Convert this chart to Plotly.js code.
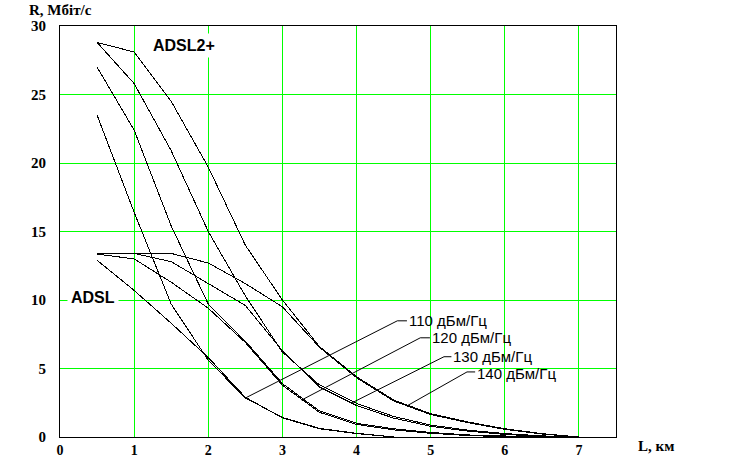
<!DOCTYPE html>
<html>
<head>
<meta charset="utf-8">
<script src="https://cdn.plot.ly/plotly-3.0.1.min.js"></script>
<style>
html,body{margin:0;padding:0;background:#fff;}
#chart{width:741px;height:457px;}
.scatterlayer path.js-line{shape-rendering:crispEdges;}
</style>
</head>
<body>
<div id="chart"></div>
<script>
// Distance, km
const L = [0.5, 1, 1.5, 2, 2.5, 3, 3.5, 4, 4.5, 5, 5.5, 6, 6.5, 7];

// ADSL2+ bit rate, Mbit/s
const adsl2p_140 = [28.8, 28.1, 24.5, 19.7, 14.0, 10.0, 6.6, 4.4, 2.7, 1.7, 1.1, 0.6, 0.25, 0.0];
const adsl2p_130 = [28.8, 25.8, 20.9, 15.0, 10.3, 6.2, 3.8, 2.45, 1.5, 0.87, 0.5, 0.25, 0.08, 0.0];
const adsl2p_120 = [27.0, 22.4, 15.4, 9.7, 7.0, 3.9, 1.9, 1.0, 0.6, 0.33, 0.15, 0.05, 0.0];
const adsl2p_110 = [23.5, 16.4, 9.7, 5.6, 2.85, 1.43, 0.63, 0.27, 0.0];

// ADSL bit rate, Mbit/s
const adsl_140 = [13.4, 13.4, 13.4, 12.7, 11.2, 9.5, 6.55, 4.33, 2.63, 1.64, 1.05, 0.56, 0.22, 0.0];
const adsl_130 = [13.4, 13.4, 12.8, 11.2, 9.6, 6.3, 3.65, 2.3, 1.38, 0.78, 0.43, 0.19, 0.05, 0.0];
const adsl_120 = [13.35, 13.0, 11.3, 9.4, 6.9, 3.78, 1.8, 0.92, 0.52, 0.27, 0.11, 0.02, 0.0];
const adsl_110 = [12.9, 10.7, 8.3, 5.8, 2.9, 1.4, 0.6, 0.25, 0.0];

// Curve labels (PSD)
const psdLabels = ['110 дБм/Гц', '120 дБм/Гц', '130 дБм/Гц', '140 дБм/Гц'];

// Axis ticks
const xTicks = [0, 1, 2, 3, 4, 5, 6, 7];
const yTicks = [0, 5, 10, 15, 20, 25, 30];

const series = [adsl2p_140, adsl2p_130, adsl2p_120, adsl2p_110, adsl_140, adsl_130, adsl_120, adsl_110];

const traces = series.map(function (ys) {
  return {
    type: 'scatter', mode: 'lines',
    x: L.slice(0, ys.length), y: ys,
    line: {color: '#000000', width: 1},
    hoverinfo: 'skip', showlegend: false
  };
});

const tickFont = {family: 'Liberation Serif, Times New Roman, serif', size: 15, color: '#000'};
const xTickFont = {family: 'Liberation Serif, Times New Roman, serif', size: 14, color: '#000'};
const labelFont = {family: 'Liberation Sans, Arial, sans-serif', size: 15, color: '#000'};
const boldFont = {family: 'Liberation Sans, Arial, sans-serif', size: 16, color: '#000', weight: 'bold'};

// Leader lines: [curve point, label point, tail end]
const leaders = [
  [[2.52, 2.9], [4.55, 8.48], [4.68, 8.48]],
  [[3.26, 2.7], [4.86, 7.24], [4.99, 7.24]],
  [[3.94, 2.5], [5.18, 5.86], [5.28, 5.86]],
  [[4.68, 2.27], [5.49, 4.75], [5.6, 4.75]]
];

const shapes = leaders.map(function (p) {
  return {
    type: 'path', xref: 'x', yref: 'y',
    path: 'M' + p[0][0] + ',' + p[0][1] + ' L' + p[1][0] + ',' + p[1][1] + ' L' + p[2][0] + ',' + p[2][1],
    line: {color: '#000', width: 1}
  };
});

const annotations = leaders.map(function (p, i) {
  return {
    xref: 'x', yref: 'y', x: p[2][0], y: p[2][1] - (i === 3 ? 0.15 : 0),
    xanchor: 'left', yanchor: 'middle', text: psdLabels[i],
    showarrow: false, font: labelFont
  };
});

annotations.push({
  xref: 'x', yref: 'y', x: 1.67, y: 28.6, text: '<b>ADSL2+</b>', showarrow: false,
  font: boldFont, bgcolor: '#ffffff', borderpad: 3, xanchor: 'center', yanchor: 'middle'
});
annotations.push({
  xref: 'x', yref: 'y', x: 0.45, y: 10.2, text: '<b>ADSL</b>', showarrow: false,
  font: boldFont, bgcolor: '#ffffff', borderpad: 3, xanchor: 'center', yanchor: 'middle'
});
annotations.push({
  xref: 'paper', yref: 'paper', x: -0.059, y: 1.038, xanchor: 'left', yanchor: 'middle',
  text: '<b>R, Мбіт/с</b>', showarrow: false, font: tickFont
});
annotations.push({
  xref: 'paper', yref: 'paper', x: 1.036, y: -0.022, xanchor: 'left', yanchor: 'middle',
  text: '<b>L, км</b>', showarrow: false, font: tickFont
});

const layout = {
  width: 741, height: 457,
  margin: {l: 60, r: 125, t: 26, b: 20, pad: 0},
  paper_bgcolor: '#ffffff', plot_bgcolor: '#ffffff',
  showlegend: false,
  xaxis: {
    range: [0, 7.5], tickvals: xTicks, ticktext: xTicks.map(function (v) { return '<b>' + v + '</b>'; }),
    showgrid: true, gridcolor: '#00ff00', gridwidth: 1, zeroline: false,
    showline: true, mirror: true, linecolor: '#000', linewidth: 1,
    ticks: '', ticklen: 0,
    tickfont: xTickFont, automargin: false, fixedrange: true
  },
  yaxis: {
    range: [0, 30], tickvals: yTicks, ticktext: yTicks.map(function (v) { return '<b>' + v + '</b>'; }),
    showgrid: true, gridcolor: '#00ff00', gridwidth: 1, zeroline: false,
    showline: true, mirror: true, linecolor: '#000', linewidth: 1,
    ticks: 'outside', ticklen: 10, tickcolor: 'rgba(0,0,0,0)',
    tickfont: tickFont, automargin: false, fixedrange: true
  },
  shapes: shapes,
  annotations: annotations
};

Plotly.newPlot('chart', traces, layout, {staticPlot: true, displayModeBar: false});
</script>
</body>
</html>
